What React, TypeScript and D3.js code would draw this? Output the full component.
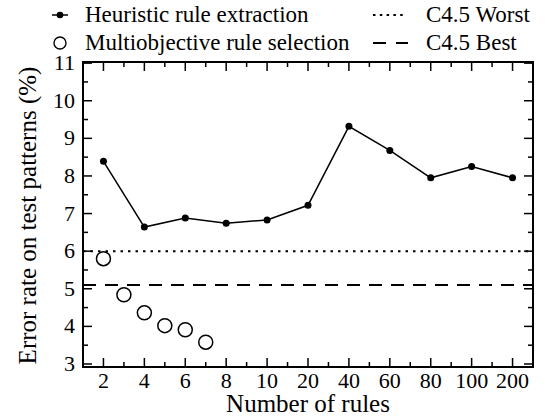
import React from 'react';
import * as d3 from 'd3';

// x categories (equal spacing on the axis)
const ruleLabels = ['2', '4', '6', '8', '10', '20', '40', '60', '80', '100', '200'];
// heuristic rule extraction, one value per category
const heuristicError = [8.39, 6.64, 6.88, 6.74, 6.83, 7.22, 9.32, 8.68, 7.95, 8.25, 7.95];
// multiobjective rule selection
const multiRules = [2, 3, 4, 5, 6, 7];
const multiError = [5.8, 4.84, 4.36, 4.02, 3.91, 3.58];
// C4.5 reference lines
const c45Worst = 6.0;
const c45Best = 5.1;
const yTicks = [3, 4, 5, 6, 7, 8, 9, 10, 11];

const FAMILY = "'Liberation Serif', 'Times New Roman', serif";
const TICK = { fontFamily: FAMILY, fontSize: '22px' };
const LEG = { fontFamily: FAMILY, fontSize: '23px' };
const TITLE = { fontFamily: FAMILY, fontSize: '25px' };

// position on the axis for a rule count (linear between 2 and 10, then categorical)
const rulePos = (n: number) => (n <= 10 ? (n - 2) / 2 : ruleLabels.indexOf(String(n)));

const left = 83, right = 533, top = 62, bottom = 367;
const x = d3.scaleLinear().domain([-0.5, 10.5]).range([left, right]);
const y = d3.scaleLinear().domain([2.92, 11.03]).range([bottom, top]);

const line = d3.line<number>().x((d, i) => x(i)).y(d => y(d));

const major = 9, minor = 5;
const xMajor = d3.range(0, 11);
const xMinor = d3.range(0, 10).map(i => i + 0.5);
const yMinor = d3.range(3, 11).map(v => v + 0.5);

const legendText = [
  { x: 85, y: 22, label: 'Heuristic rule extraction' },
  { x: 85, y: 49.5, label: 'Multiobjective rule selection' },
  { x: 426, y: 22, label: 'C4.5 Worst' },
  { x: 426, y: 49.5, label: 'C4.5 Best' },
];

const App = () => {
  const ticks: [number, number, number, number][] = [];
  xMajor.forEach(i => { ticks.push([x(i), bottom, x(i), bottom - major], [x(i), top, x(i), top + major]); });
  xMinor.forEach(i => { ticks.push([x(i), bottom, x(i), bottom - minor], [x(i), top, x(i), top + minor]); });
  yTicks.forEach(v => { ticks.push([left, y(v), left + major, y(v)], [right, y(v), right - major, y(v)]); });
  yMinor.forEach(v => { ticks.push([left, y(v), left + minor, y(v)], [right, y(v), right - minor, y(v)]); });

  return (
    <svg width={545} height={418}
      style={{ position: 'absolute', left: 0, top: 0, background: '#fff' }}>
      {/* reference lines */}
      <line x1={left} x2={right} y1={y(c45Worst)} y2={y(c45Worst)}
        stroke="#000" strokeWidth={2} strokeDasharray="2.5,5" />
      <line x1={left} x2={right} y1={y(c45Best)} y2={y(c45Best)}
        stroke="#000" strokeWidth={2.2} strokeDasharray="13,9" />

      {/* frame + ticks */}
      <rect x={left} y={top} width={right - left} height={bottom - top}
        fill="none" stroke="#000" strokeWidth={2} />
      {ticks.map((t, i) => (
        <line key={i} x1={t[0]} y1={t[1]} x2={t[2]} y2={t[3]} stroke="#000" strokeWidth={1.5} />
      ))}

      {/* tick labels */}
      {ruleLabels.map((d, i) => (
        <text key={d} x={x(i)} y={388} textAnchor="middle" style={TICK}>{d}</text>
      ))}
      {yTicks.map(d => (
        <text key={d} x={75} y={y(d) + 7} textAnchor="end" style={TICK}>{d}</text>
      ))}

      {/* axis titles */}
      <text x={(left + right) / 2} y={412} textAnchor="middle" style={TITLE}>Number of rules</text>
      <text transform={`translate(36,${(top + bottom) / 2 + 1}) rotate(-90)`} textAnchor="middle" style={TITLE}>
        Error rate on test patterns (%)
      </text>

      {/* heuristic rule extraction */}
      <path d={line(heuristicError) || ''} fill="none" stroke="#000" strokeWidth={1.5} />
      {heuristicError.map((d, i) => (
        <circle key={i} cx={x(i)} cy={y(d)} r={3.5} fill="#000" />
      ))}

      {/* multiobjective rule selection */}
      {multiError.map((d, i) => (
        <circle key={i} cx={x(rulePos(multiRules[i]))} cy={y(d)} r={7}
          fill="#fff" stroke="#000" strokeWidth={1.5} />
      ))}

      {/* legend */}
      <line x1={52} x2={68} y1={15} y2={15} stroke="#000" strokeWidth={1.5} />
      <circle cx={60} cy={15} r={3.3} fill="#000" />
      <circle cx={60} cy={43} r={6} fill="#fff" stroke="#000" strokeWidth={1.4} />
      <line x1={373} x2={407} y1={15} y2={15} stroke="#000" strokeWidth={2} strokeDasharray="2.5,4.3" />
      <line x1={373} x2={408} y1={43} y2={43} stroke="#000" strokeWidth={2.2} strokeDasharray="13,10" />
      {legendText.map(d => (
        <text key={d.label} x={d.x} y={d.y} style={LEG}>{d.label}</text>
      ))}
    </svg>
  );
};

export default App;
